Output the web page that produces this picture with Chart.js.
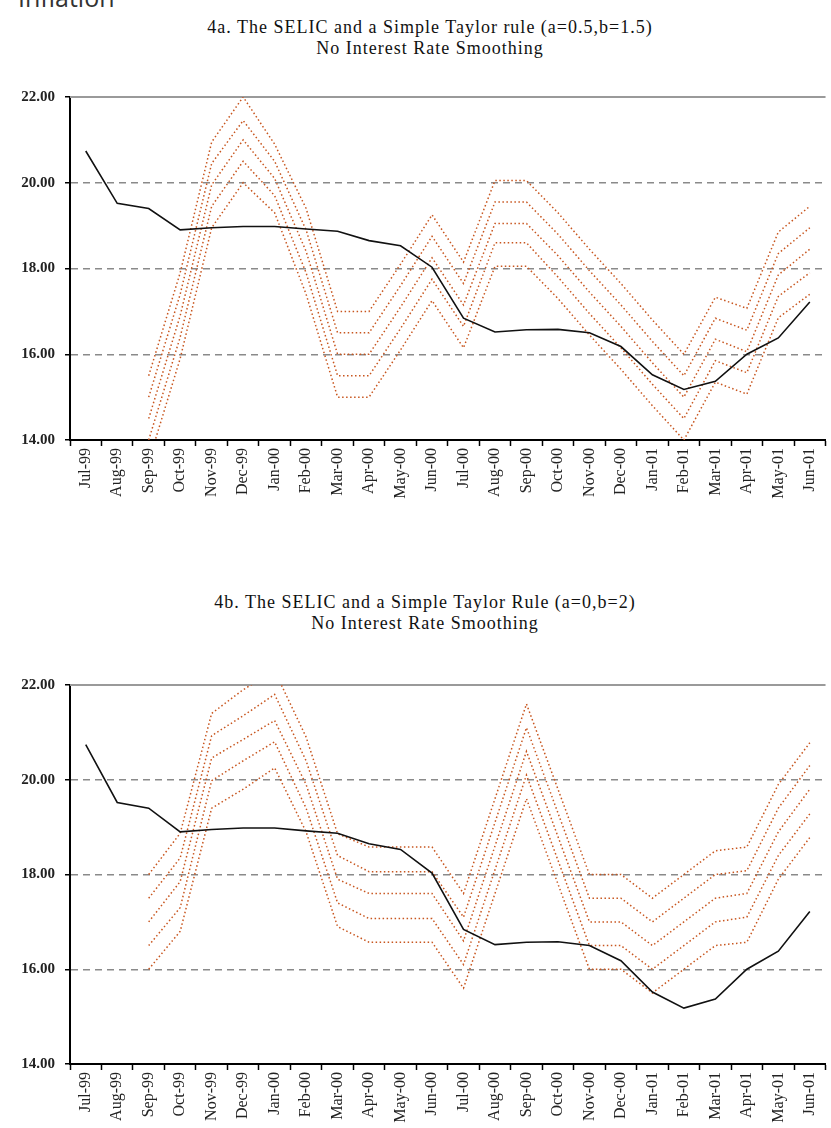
<!DOCTYPE html>
<html lang="en">
<head>
<meta charset="UTF-8">
<title>SELIC e regras de Taylor</title>
<script src="https://cdn.jsdelivr.net/npm/chart.js"></script>
<style>
  body { margin: 0; background: #fff; width: 831px; height: 1128px; overflow: hidden; position: relative; }
  .palavra-topo {
    position: absolute; left: 18px; top: -20px;
    font-family: "Open Sans", sans-serif; font-size: 25px; color: #333;
  }
  .titulo {
    position: absolute; transform: translateX(-50%);
    white-space: nowrap; text-align: center;
    font-family: "Liberation Serif", serif; font-size: 18px; line-height: 21px;
    letter-spacing: 1px; color: #111;
  }
  canvas { position: absolute; left: 0; }
</style>
</head>
<body>
  <div class="palavra-topo">Inflation</div>

  <div class="titulo" style="top:17px; left:430px">4a. The SELIC and a Simple Taylor rule (a=0.5,b=1.5)<br>No Interest Rate Smoothing</div>
  <canvas id="grafico-a" width="831" height="432" style="top:78px"></canvas>

  <div class="titulo" style="top:592px; left:425px">4b. The SELIC and a Simple Taylor Rule (a=0,b=2)<br>No Interest Rate Smoothing</div>
  <canvas id="grafico-b" width="831" height="468" style="top:666px"></canvas>

<script>
  const meses = ['Jul-99','Aug-99','Sep-99','Oct-99','Nov-99','Dec-99','Jan-00','Feb-00','Mar-00','Apr-00',
                 'May-00','Jun-00','Jul-00','Aug-00','Sep-00','Oct-00','Nov-00','Dec-00','Jan-01','Feb-01',
                 'Mar-01','Apr-01','May-01','Jun-01'];

  const selic = [20.74, 19.52, 19.40, 18.90, 18.95, 18.98, 18.98, 18.92, 18.87, 18.65, 18.53, 18.03,
                 16.84, 16.52, 16.57, 16.58, 16.50, 16.18, 15.52, 15.18, 15.37, 16.00, 16.38, 17.22];

  // 4a: a=0.5, b=1.5
  const taylorA1 = [null, null, 15.5, 17.9, 20.95, 22.0, 20.9, 19.4, 17.0, 17.0, 18.1, 19.25,
                    18.15, 20.05, 20.05, 19.3, 18.45, 17.65, 16.8, 16.0, 17.33, 17.07, 18.85, 19.45];
  const taylorA2 = [null, null, 15.0, 17.4, 20.45, 21.45, 20.5, 18.9, 16.5, 16.5, 17.6, 18.75,
                    17.65, 19.55, 19.55, 18.8, 17.95, 17.15, 16.3, 15.5, 16.84, 16.56, 18.35, 18.95];
  const taylorA3 = [null, null, 14.5, 16.9, 19.95, 21.0, 20.1, 18.4, 16.0, 16.0, 17.1, 18.25,
                    17.15, 19.05, 19.05, 18.3, 17.45, 16.65, 15.8, 15.0, 16.35, 16.06, 17.85, 18.45];
  const taylorA4 = [null, null, 14.0, 16.4, 19.45, 20.5, 19.7, 17.9, 15.5, 15.5, 16.6, 17.75,
                    16.65, 18.6, 18.6, 17.8, 16.95, 16.15, 15.3, 14.5, 15.85, 15.57, 17.35, 17.9];
  const taylorA5 = [null, null, 13.5, 15.9, 18.95, 20.0, 19.3, 17.4, 15.0, 15.0, 16.1, 17.25,
                    16.15, 18.05, 18.05, 17.3, 16.45, 15.65, 14.8, 14.0, 15.35, 15.07, 16.85, 17.4];

  // 4b: a=0, b=2
  const taylorB1 = [null, null, 18.0, 18.87, 21.4, 21.9, 22.3, 20.9, 18.86, 18.58, 18.58, 18.58,
                    17.6, 19.6, 21.6, 19.8, 18.0, 18.0, 17.5, 18.0, 18.5, 18.58, 19.9, 20.78];
  const taylorB2 = [null, null, 17.5, 18.35, 20.93, 21.35, 21.8, 20.4, 18.4, 18.06, 18.06, 18.06,
                    17.1, 19.1, 21.1, 19.3, 17.5, 17.5, 17.0, 17.5, 18.0, 18.08, 19.4, 20.3];
  const taylorB3 = [null, null, 17.0, 17.85, 20.46, 20.85, 21.25, 19.9, 17.9, 17.6, 17.6, 17.6,
                    16.6, 18.6, 20.6, 18.8, 17.0, 17.0, 16.5, 17.0, 17.5, 17.6, 18.9, 19.8];
  const taylorB4 = [null, null, 16.5, 17.3, 19.98, 20.4, 20.8, 19.4, 17.4, 17.07, 17.07, 17.07,
                    16.1, 18.1, 20.1, 18.3, 16.5, 16.5, 16.0, 16.5, 17.0, 17.1, 18.4, 19.28];
  const taylorB5 = [null, null, 16.0, 16.8, 19.4, 19.8, 20.25, 18.9, 16.9, 16.57, 16.57, 16.57,
                    15.6, 17.6, 19.6, 17.8, 16.0, 16.0, 15.5, 16.0, 16.5, 16.57, 17.9, 18.78];

  const ticksY = [14, 16, 18, 20, 22];

  const laranja = '#c8561f';

  // linha cinza continua no topo da area do grafico
  const bordaTopo = {
    id: 'bordaTopo',
    beforeDatasetsDraw(chart) {
      const { ctx, chartArea } = chart;
      ctx.save();
      ctx.strokeStyle = '#9a9a9a';
      ctx.lineWidth = 2;
      ctx.beginPath();
      ctx.moveTo(chartArea.left, chartArea.top);
      ctx.lineTo(chartArea.right, chartArea.top);
      ctx.stroke();
      ctx.restore();
    }
  };

  function serieTaylor(dados) {
    return {
      data: dados,
      borderColor: laranja,
      borderWidth: 1.5,
      borderDash: [1.5, 2.5],
      pointRadius: 0,
      tension: 0,
      fill: false
    };
  }

  function criarGrafico(id, taylor) {
    const datasets = [{
      data: selic,
      borderColor: '#111',
      borderWidth: 1.6,
      pointRadius: 0,
      tension: 0,
      fill: false
    }].concat(taylor.map(serieTaylor));

    return new Chart(document.getElementById(id), {
      type: 'line',
      data: { labels: meses, datasets: datasets },
      plugins: [bordaTopo],
      options: {
        responsive: false,
        animation: false,
        layout: { padding: { top: 2, right: 0, left: 0, bottom: 0 } },
        plugins: { legend: { display: false }, tooltip: { enabled: false }, title: { display: false } },
        scales: {
          x: {
            offset: true,
            grid: { offset: true, drawOnChartArea: false, drawTicks: true, tickLength: 6, tickColor: '#000', tickWidth: 1.5 },
            border: { color: '#000', width: 2 },
            ticks: {
              autoSkip: false, maxRotation: 90, minRotation: 90, padding: 2, color: '#222',
              font: { family: 'Liberation Serif', size: 16 }
            },
            afterFit: s => { s.height = 70; }
          },
          y: {
            min: ticksY[0],
            max: ticksY[ticksY.length - 1],
            afterBuildTicks: s => { s.ticks = ticksY.map(v => ({ value: v })); },
            grid: {
              color: c => (c.tick && (c.tick.value === 22 || c.tick.value === 14)) ? 'rgba(0,0,0,0)' : '#8a8a8a',
              lineWidth: 1.5, tickLength: 5, tickColor: '#000', tickWidth: 1.5
            },
            border: { color: '#000', width: 2, dash: [7, 5] },
            ticks: {
              padding: 10, color: '#222',
              font: { family: 'Liberation Serif', size: 15, weight: 'bold' },
              callback: v => Number(v).toFixed(2)
            },
            afterFit: s => { s.width = 70; }
          }
        }
      }
    });
  }

  criarGrafico('grafico-a', [taylorA1, taylorA2, taylorA3, taylorA4, taylorA5]);
  criarGrafico('grafico-b', [taylorB1, taylorB2, taylorB3, taylorB4, taylorB5]);
</script>
</body>
</html>
